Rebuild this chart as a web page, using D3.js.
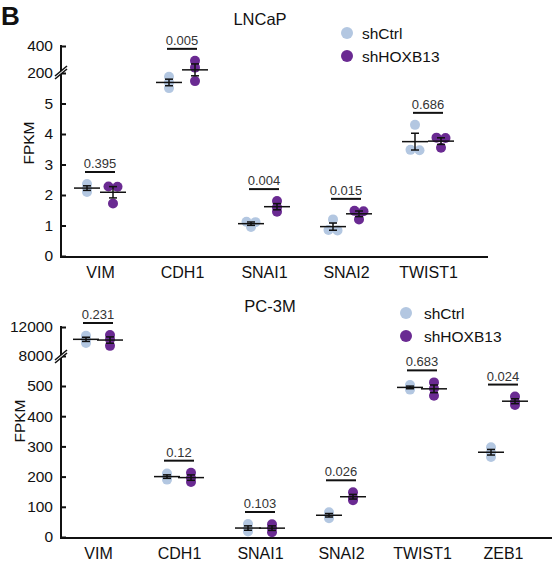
<!DOCTYPE html>
<html><head><meta charset="utf-8">
<script src="https://cdn.jsdelivr.net/npm/d3@7"></script>
<style>
html,body{margin:0;padding:0;background:#fff;}
svg{display:block;font-family:"Liberation Sans",Arial,sans-serif;}
</style></head>
<body><svg id="c" width="555" height="571"></svg>
<script>
// ---------- data ----------
const groups = ["shCtrl", "shHOXB13"];
const colors = ["#b3c7e1", "#6a2a92"];

const lncapGenes = ["VIM", "CDH1", "SNAI1", "SNAI2", "TWIST1"];
const lncapCtrl = [[2.36, 2.22, 2.10], [172, 130, 88], [1.12, 1.11, 0.95], [1.20, 0.85, 0.84], [4.30, 3.48, 3.47]];
const lncapSh   = [[2.28, 2.27, 1.72], [290, 240, 140], [1.80, 1.60, 1.45], [1.48, 1.47, 1.20], [3.88, 3.87, 3.55]];
const lncapP    = ["0.395", "0.005", "0.004", "0.015", "0.686"];
const lncapLowTicks = [0, 1, 2, 3, 4, 5];
const lncapHighTicks = [200, 400];

const pc3mGenes = ["VIM", "CDH1", "SNAI1", "SNAI2", "TWIST1", "ZEB1"];
const pc3mCtrl = [[10800, 10300, 9800], [210, 200, 190], [43, 28, 18], [82, 72, 62], [503, 495, 488], [297, 280, 265]];
const pc3mSh   = [[10900, 10300, 9400], [213, 195, 182], [42, 30, 16], [148, 130, 122], [512, 492, 468], [465, 447, 437]];
const pc3mP    = ["0.231", "0.12", "0.103", "0.026", "0.683", "0.024"];
const pc3mLowTicks = [0, 100, 200, 300, 400, 500];
const pc3mHighTicks = [8000, 12000];

// ---------- drawing ----------
const svg = d3.select("#c");
const ink = "#111";

function panel(cfg) {
  const g = svg.append("g");
  const low = d3.scaleLinear().domain(cfg.lowDomain).range(cfg.lowRange);
  const high = d3.scaleLinear().domain(cfg.highDomain).range(cfg.highRange);
  const y = v => v > cfg.breakVal ? high(v) : low(v);
  const x = d3.scalePoint().domain(cfg.genes).range(cfg.xRange);
  const off = cfg.off;
  const r = 5;

  // axes
  const fmt = d3.format("d");
  const axL = g.append("g").attr("transform", `translate(${cfg.axisX},0)`)
    .call(d3.axisLeft(low).tickValues(cfg.lowTicks).tickFormat(fmt).tickSizeInner(-5).tickSizeOuter(0).tickPadding(8));
  const axH = g.append("g").attr("transform", `translate(${cfg.axisX},0)`)
    .call(d3.axisLeft(high).tickValues(cfg.highTicks).tickFormat(fmt).tickSizeInner(-5).tickSizeOuter(0).tickPadding(8));
  [axL, axH].forEach(a => {
    a.select(".domain").remove();
    a.selectAll(".tick line").attr("stroke", ink).attr("stroke-width", 2);
    a.selectAll(".tick text").attr("fill", ink).style("font-size", "15.5px")
      .style("font-family", "Liberation Sans, Arial, sans-serif");
  });
  g.append("line").attr("x1", cfg.axisX).attr("x2", cfg.axisX)
    .attr("y1", high(cfg.highTicks[cfg.highTicks.length - 1]) - 1).attr("y2", cfg.lowRange[0] + 1)
    .attr("stroke", ink).attr("stroke-width", 2);
  // break marks
  const by = cfg.breakY;
  g.append("polygon")
    .attr("points", `${cfg.axisX-6},${by+5} ${cfg.axisX+6},${by-5} ${cfg.axisX+6},${by-2} ${cfg.axisX-6},${by+8}`)
    .attr("fill", "#fff");
  [0, 3].forEach(d => g.append("line")
    .attr("x1", cfg.axisX - 6).attr("y1", by + 5 + d).attr("x2", cfg.axisX + 6).attr("y2", by - 5 + d)
    .attr("stroke", ink).attr("stroke-width", 1.6));

  // x axis
  const ax = g.append("g").attr("transform", `translate(0,${cfg.lowRange[0] + 1})`)
    .call(d3.axisBottom(x).tickSize(0).tickPadding(10));
  ax.select(".domain").remove();
  ax.selectAll(".tick text").attr("fill", ink).style("font-size", "16px")
    .style("font-family", "Liberation Sans, Arial, sans-serif");
  g.append("line").attr("x1", cfg.axisX - 1).attr("x2", cfg.xEnd)
    .attr("y1", cfg.lowRange[0] + 1).attr("y2", cfg.lowRange[0] + 1)
    .attr("stroke", ink).attr("stroke-width", 2);

  // y label
  g.append("text").attr("transform", `translate(${cfg.labelX},${cfg.labelY}) rotate(-90)`)
    .attr("text-anchor", "middle").attr("fill", ink).style("font-size", "15.5px").text("FPKM");

  // title
  g.append("text").attr("x", cfg.titleX).attr("y", cfg.titleY).attr("text-anchor", "middle")
    .attr("fill", ink).style("font-size", "16.5px").text(cfg.title);

  // legend
  groups.forEach((name, i) => {
    g.append("circle").attr("cx", cfg.legX).attr("cy", cfg.legY + i * 23).attr("r", 6).attr("fill", colors[i]);
    g.append("text").attr("x", cfg.legX + cfg.legGap).attr("y", cfg.legY + i * 23 + 5.5)
      .attr("fill", ink).style("font-size", "15.5px").text(name);
  });

  // points
  const sets = [cfg.ctrl, cfg.sh];
  cfg.genes.forEach((gene, gi) => {
    sets.forEach((set, si) => {
      const vals = set[gi];
      const cx = x(gene) + (si === 0 ? -off : off);
      // simple dodge for (almost) equal values
      const ys = vals.map(v => y(v));
      const order = d3.range(vals.length).sort((a, b) => ys[a] - ys[b]);
      const clusters = [];
      order.forEach(idx => {
        const last = clusters[clusters.length - 1];
        if (last && Math.abs(ys[idx] - ys[last[last.length - 1]]) < 1.5) last.push(idx);
        else clusters.push([idx]);
      });
      clusters.forEach(cl => cl.forEach((idx, k) => {
        const dx = (k - (cl.length - 1) / 2) * 9;
        g.append("circle").attr("cx", cx + dx).attr("cy", ys[idx]).attr("r", r).attr("fill", colors[si]);
      }));
      const m = d3.mean(vals);
      const sem = d3.deviation(vals) / Math.sqrt(vals.length);
      const my = y(m), t = y(m + sem), b = y(m - sem);
      g.append("line").attr("x1", cx - 13).attr("x2", cx + 13).attr("y1", my).attr("y2", my)
        .attr("stroke", ink).attr("stroke-width", 1.5);
      g.append("line").attr("x1", cx).attr("x2", cx).attr("y1", t).attr("y2", b)
        .attr("stroke", ink).attr("stroke-width", 1.5);
      [t, b].forEach(yy => g.append("line").attr("x1", cx - 4).attr("x2", cx + 4).attr("y1", yy).attr("y2", yy)
        .attr("stroke", ink).attr("stroke-width", 1.5));
    });
    // p value bracket
    const top = d3.min(cfg.ctrl[gi].concat(cfg.sh[gi]).map(v => y(v)));
    const by2 = top - 12;
    g.append("line").attr("x1", x(gene) - 15).attr("x2", x(gene) + 15).attr("y1", by2).attr("y2", by2)
      .attr("stroke", ink).attr("stroke-width", 2);
    g.append("text").attr("x", x(gene)).attr("y", by2 - 4).attr("text-anchor", "middle")
      .attr("fill", "#333").style("font-size", "13px").text(cfg.p[gi]);
  });
}

// panel letter
svg.append("text").attr("x", 1).attr("y", 25).attr("font-weight", "bold").style("font-size", "26px")
  .attr("fill", ink).text("B");

panel({
  genes: lncapGenes, ctrl: lncapCtrl, sh: lncapSh, p: lncapP,
  lowTicks: lncapLowTicks, highTicks: lncapHighTicks,
  lowDomain: [0, 5], lowRange: [256, 103.5], highDomain: [200, 400], highRange: [73, 46],
  breakVal: 6, breakY: 71, axisX: 61, xRange: [100, 428], xEnd: 488, off: 13,
  labelX: 34, labelY: 143, title: "LNCaP", titleX: 260, titleY: 25,
  legX: 347, legY: 33, legGap: 15
});

panel({
  genes: pc3mGenes, ctrl: pc3mCtrl, sh: pc3mSh, p: pc3mP,
  lowTicks: pc3mLowTicks, highTicks: pc3mHighTicks,
  lowDomain: [0, 500], lowRange: [537, 386], highDomain: [8000, 12000], highRange: [356, 327],
  breakVal: 1000, breakY: 355, axisX: 61, xRange: [98, 503], xEnd: 552, off: 12,
  labelX: 25, labelY: 421, title: "PC-3M", titleX: 270, titleY: 312,
  legX: 406, legY: 313, legGap: 18
});
</script>
</body></html>
